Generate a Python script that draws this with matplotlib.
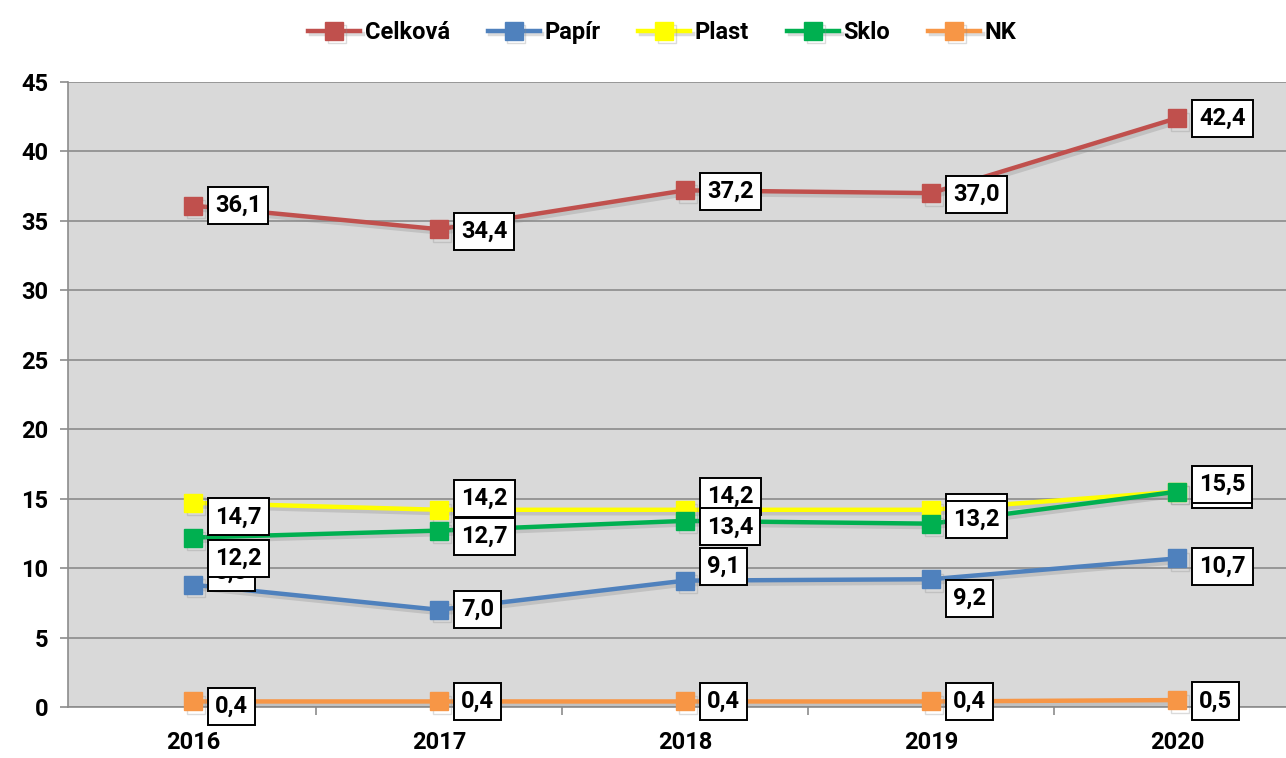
import matplotlib
matplotlib.use('Agg')
import matplotlib.pyplot as plt
import matplotlib.patheffects as pe
from matplotlib.ticker import MultipleLocator, FixedLocator

plt.rcParams['font.family'] = ['Roboto', 'DejaVu Sans']
plt.rcParams['font.weight'] = 'bold'

# ----- data -----
years = ['2016', '2017', '2018', '2019', '2020']
series_names = ['Celková', 'Papír', 'Plast', 'Sklo', 'NK']
celkova = [36.1, 34.4, 37.2, 37.0, 42.4]
papir = [8.8, 7.0, 9.1, 9.2, 10.7]
plast = [14.7, 14.2, 14.2, 14.2, 15.5]
sklo = [12.2, 12.7, 13.4, 13.2, 15.5]
nk = [0.4, 0.4, 0.4, 0.4, 0.5]

colors = ['#C0504D', '#4F81BD', '#FFFF00', '#00B050', '#F79646']
# vertical nudges of the data labels (pixels, down positive), as placed in the original
label_dy = [
    [0, 2, 1, 1, 0],
    [-12, 0, -14, 19, 8],
    [14, -11, -13, 3, -2],
    [21, 6, 6, -4, -7],
    [5, 0, 0, 0, 1],
]

fig = plt.figure(figsize=(12.86, 7.58), dpi=100)
ax = fig.add_axes([68 / 1286, 51 / 758, 1 - 68 / 1286, 625 / 758])
ax.set_facecolor('#D9D9D9')

x = list(range(len(years)))
shadow = [pe.SimpleLineShadow(offset=(2, -2.5), shadow_color='#8a8a8a', alpha=0.3), pe.Normal()]
all_series = [celkova, papir, plast, sklo, nk]
for i, (vals, name, c) in enumerate(zip(all_series, series_names, colors)):
    ax.plot(x, vals, color=c, lw=3.2, marker='s', markersize=13, label=name,
            zorder=3 + i * 0.1, path_effects=shadow, clip_on=False)

px = 0.72  # pixel -> points
for i, vals in enumerate(all_series):
    for j, v in enumerate(vals):
        ax.annotate(f'{v:.1f}'.replace('.', ','), (j, v),
                    xytext=(22 * px, -label_dy[i][j] * px), textcoords='offset points',
                    ha='left', va='center', fontsize=17, fontweight='bold', color='black',
                    bbox=dict(boxstyle='square,pad=0.3', fc='white', ec='black', lw=1.4),
                    zorder=10 + i, annotation_clip=False)

ax.set_xlim(-0.508, 4.443)
ax.set_ylim(0, 45)
ax.yaxis.set_major_locator(MultipleLocator(5))
ax.grid(axis='y', color='#8c8c8c', lw=1.2)
ax.set_axisbelow(True)

for s in ['top', 'right']:
    ax.spines[s].set_visible(False)
ax.spines['left'].set_color('#8c8c8c')
ax.spines['left'].set_linewidth(1.2)
ax.spines['bottom'].set_color('#8c8c8c')
ax.spines['bottom'].set_linewidth(1.2)

ax.set_xticks(x)
ax.set_xticklabels(years, fontsize=17, fontweight='bold')
ax.xaxis.set_minor_locator(FixedLocator([0.5, 1.5, 2.5, 3.5]))
ax.tick_params(axis='x', which='major', length=0, pad=17)
ax.tick_params(axis='x', which='minor', length=6, color='#8c8c8c', width=1.2, direction='out')
ax.tick_params(axis='y', length=6, color='#8c8c8c', width=1.2, pad=8, labelsize=17)
for t in ax.get_yticklabels():
    t.set_fontweight('bold')

fig.legend(loc='upper center', bbox_to_anchor=(0.515, 1.0), ncol=5, frameon=False,
           handlelength=2.2, handletextpad=0.2, columnspacing=1.6,
           prop={'weight': 'bold', 'size': 17})

fig.savefig('out.png', dpi=100)
